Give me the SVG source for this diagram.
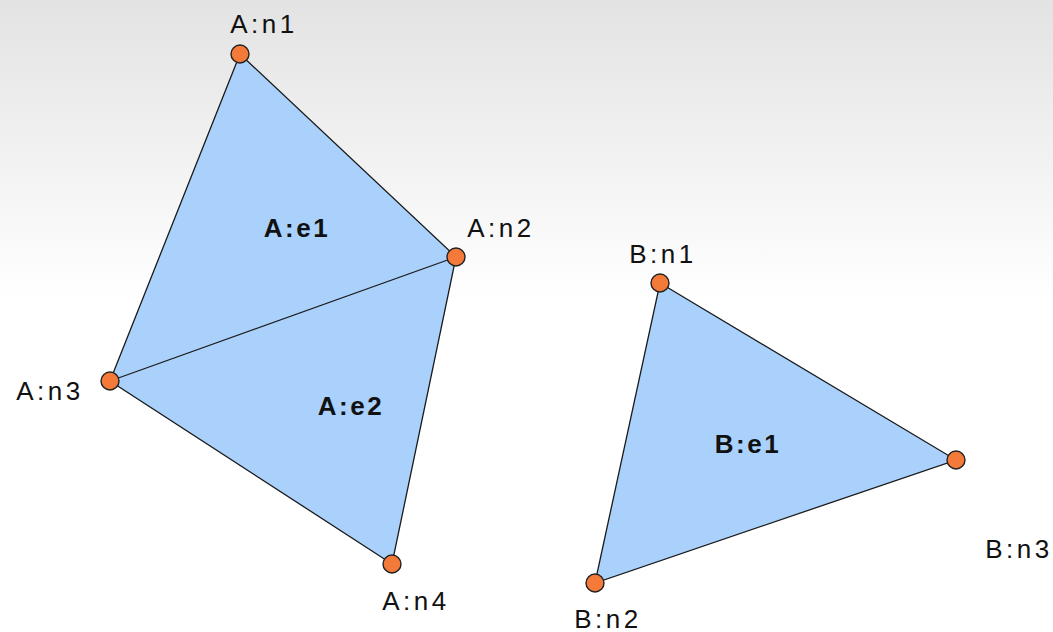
<svg xmlns="http://www.w3.org/2000/svg" width="1053" height="632" viewBox="0 0 1053 632">
<defs>
<linearGradient id="bg" x1="0" y1="0" x2="0" y2="1">
<stop offset="0" stop-color="#e3e3e3"/>
<stop offset="1" stop-color="#ffffff"/>
</linearGradient>
<style>
.el{fill:#a9d1fb;stroke:none}
.edge{stroke:#1a1a1a;stroke-width:1.3;fill:none}
.node{fill:#f47a3a;stroke:#222;stroke-width:1.4}
.nl{font-family:"Liberation Sans",Arial,sans-serif;font-size:26px;fill:#111;letter-spacing:3.5px;text-anchor:middle}
.el-l{font-family:"Liberation Sans",Arial,sans-serif;font-size:26px;font-weight:bold;fill:#111;letter-spacing:2.5px;text-anchor:middle}
</style>
</defs>
<rect x="0" y="0" width="1053" height="300" fill="url(#bg)"/>
<rect x="0" y="300" width="1053" height="332" fill="#ffffff"/>
<g id="A-e1"><polygon class="el" points="240,54 456,257 110,381"/><text class="el-l" x="297" y="237">A:e1</text></g>
<g id="A-e2"><polygon class="el" points="456,257 392,564 110,381"/><text class="el-l" x="351" y="415">A:e2</text></g>
<g id="B-e1"><polygon class="el" points="660,283 956,460 595,583"/><text class="el-l" x="748" y="453">B:e1</text></g>
<g id="connectors">
<polyline class="edge" points="240,54 456,257 392,564 110,381 240,54"/>
<line class="edge" x1="110" y1="381" x2="456" y2="257"/>
<polygon class="edge" points="660,283 956,460 595,583"/>
</g>
<g id="A-n1"><circle class="node" cx="240" cy="54" r="9"/><text class="nl" x="264" y="33">A:n1</text></g>
<g id="A-n2"><circle class="node" cx="456" cy="257" r="9"/><text class="nl" x="501" y="237">A:n2</text></g>
<g id="A-n3"><circle class="node" cx="110" cy="381" r="9"/><text class="nl" x="50" y="400">A:n3</text></g>
<g id="A-n4"><circle class="node" cx="392" cy="564" r="9"/><text class="nl" x="416" y="610">A:n4</text></g>
<g id="B-n1"><circle class="node" cx="660" cy="283" r="9"/><text class="nl" x="663" y="263">B:n1</text></g>
<g id="B-n2"><circle class="node" cx="595" cy="583" r="9"/><text class="nl" x="608" y="628">B:n2</text></g>
<g id="B-n3"><circle class="node" cx="956" cy="460" r="9"/><text class="nl" x="1019" y="558">B:n3</text></g>
</svg>
